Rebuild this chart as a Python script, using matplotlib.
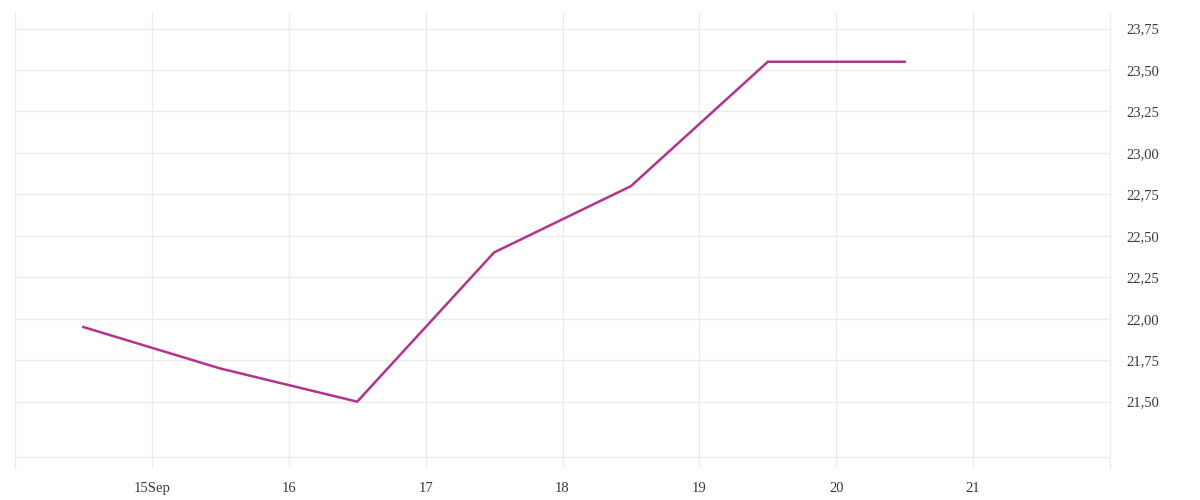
import matplotlib.pyplot as plt
from matplotlib.ticker import FixedLocator

# data: daily points, plotted at mid-day (Sep)
days = [14.5, 15.5, 16.5, 17.5, 18.5, 19.5, 20.5]
values = [21.95, 21.70, 21.50, 22.40, 22.80, 23.55, 23.55]

x_ticks = [15, 16, 17, 18, 19, 20, 21]
x_labels = ['15Sep', '16', '17', '18', '19', '20', '21']
y_ticks = [21.50, 21.75, 22.00, 22.25, 22.50, 22.75, 23.00, 23.25, 23.50, 23.75]
y_labels = [f'{v:.2f}'.replace('.', ',') for v in y_ticks]

grid_col = '#ebebeb'
line_col = '#b5338a'

plt.rcParams['font.family'] = ['Liberation Serif', 'DejaVu Serif']

fig = plt.figure(figsize=(12, 5), dpi=100)
ax = fig.add_axes([0.0125, 0.064, 0.9125, 0.912])

ax.plot(days, values, color=line_col, linewidth=1.8, solid_joinstyle='round', zorder=3)

ax.set_xlim(14, 22)
ax.set_ylim(21.10, 23.85)

ax.xaxis.set_major_locator(FixedLocator(x_ticks))
ax.set_xticklabels(x_labels)
ax.yaxis.set_major_locator(FixedLocator(y_ticks))
ax.set_yticklabels(y_labels)
ax.yaxis.tick_right()

ax.grid(True, color=grid_col, linewidth=1)
ax.axhline(21.165, color=grid_col, linewidth=1)

for side in ['top', 'bottom']:
    ax.spines[side].set_visible(False)
for side in ['left', 'right']:
    ax.spines[side].set_color(grid_col)
    ax.spines[side].set_linewidth(1)

ax.tick_params(axis='x', length=0, pad=10, labelsize=10.5, labelcolor='#3a3a3a')
ax.tick_params(axis='y', length=0, pad=12, labelsize=10.5, labelcolor='#3a3a3a')

fig.savefig('out.png', dpi=100, facecolor='white')
